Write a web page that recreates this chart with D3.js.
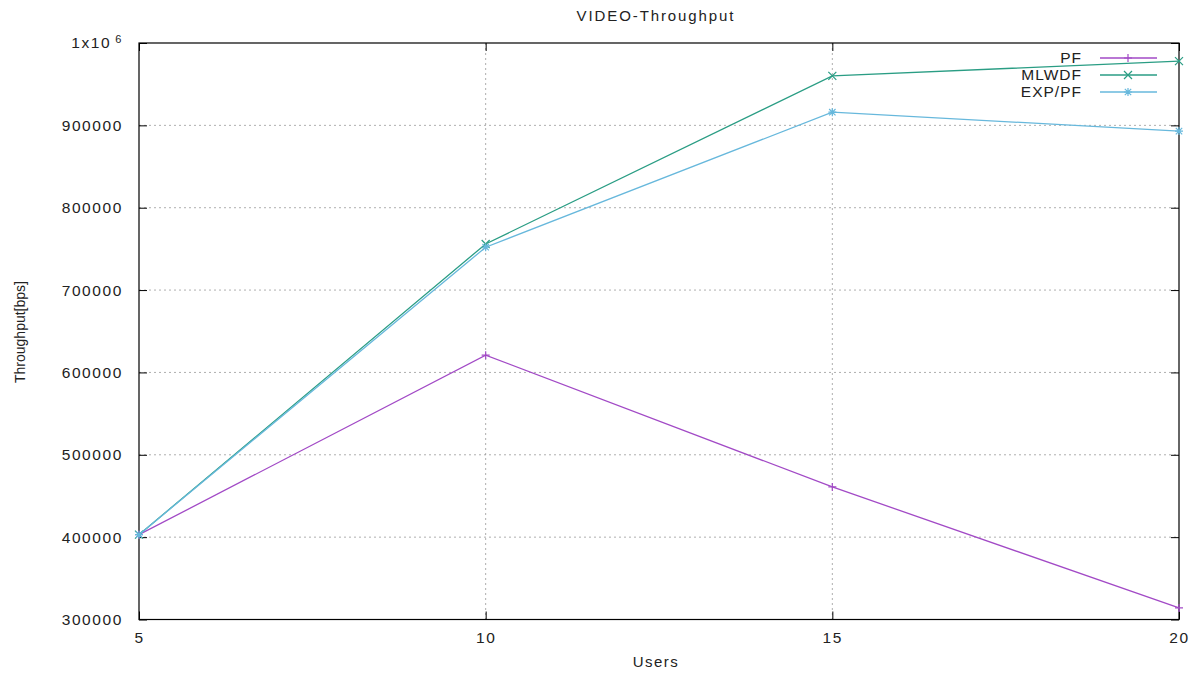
<!DOCTYPE html>
<html><head><meta charset="utf-8">
<script src="https://cdn.jsdelivr.net/npm/d3@7"></script>
<style>body{margin:0;background:#fff}text{font-family:"Liberation Sans",Arial,sans-serif;fill:#222}</style>
</head><body><svg id="c" width="1195" height="673"></svg>
<script>
const users = [5, 10, 15, 20];
const pf = [403000, 621000, 461000, 314000];
const mlwdf = [403000, 756000, 960000, 978000];
const expPf = [403000, 752000, 916000, 893000];
const yTicks = [300000, 400000, 500000, 600000, 700000, 800000, 900000, 1000000];
const seriesNames = ["PF", "MLWDF", "EXP/PF"];
const seriesColors = ["#a24ac6", "#2a9d84", "#67b8dc"];
const seriesMarks = ["plus", "cross", "star"];

const svg = d3.select("#c");
const L = 139, R = 1179, T = 43, B = 619.5;
const x = d3.scaleLinear().domain([5, 20]).range([L, R]);
const y = d3.scaleLinear().domain([300000, 1000000]).range([B, T]);

// grid
const g = svg.append("g");
g.selectAll(".gy").data(yTicks.slice(1, -1)).enter().append("line")
  .attr("x1", L).attr("x2", R).attr("y1", d => y(d)).attr("y2", d => y(d))
  .attr("stroke", "#999").attr("stroke-width", 0.8).attr("stroke-dasharray", "2,3");
g.selectAll(".gx").data(users.slice(1, -1)).enter().append("line")
  .attr("y1", T).attr("y2", B).attr("x1", d => x(d)).attr("x2", d => x(d))
  .attr("stroke", "#999").attr("stroke-width", 0.8).attr("stroke-dasharray", "2,3");

// axes via d3
const fmtY = d => d === 1000000 ? "" : d3.format("d")(d);
const yAxis = svg.append("g").attr("transform", `translate(${L},0)`)
  .call(d3.axisLeft(y).tickValues(yTicks).tickFormat(fmtY).tickSizeInner(-8).tickSizeOuter(0).tickPadding(16));
const yAxisR = svg.append("g").attr("transform", `translate(${R},0)`)
  .call(d3.axisRight(y).tickValues(yTicks).tickFormat("").tickSizeInner(-8).tickSizeOuter(0));
const xAxis = svg.append("g").attr("transform", `translate(0,${B})`)
  .call(d3.axisBottom(x).tickValues(users).tickFormat(d3.format("d")).tickSizeInner(-8).tickSizeOuter(0).tickPadding(12));
const xAxisT = svg.append("g").attr("transform", `translate(0,${T})`)
  .call(d3.axisTop(x).tickValues(users).tickFormat("").tickSizeInner(-8).tickSizeOuter(0));
[yAxis, yAxisR, xAxis, xAxisT].forEach(a => {
  a.select(".domain").remove();
  a.selectAll("line").attr("stroke", "#000").attr("stroke-width", 1);
  a.selectAll("text").attr("font-size", 15.5).attr("letter-spacing", "1.6px")
    .attr("font-family", "Liberation Sans, Arial, sans-serif").attr("fill", "#333");
});
// 1x10^6 label
const sup = svg.append("text").attr("x", L - 16).attr("y", y(1000000) + 5)
  .attr("text-anchor", "end").attr("font-size", 15.5).attr("letter-spacing", "1.6px").attr("fill", "#333");
sup.append("tspan").text("1x10");
sup.append("tspan").text("6").attr("dy", -5).attr("font-size", 11).attr("dx", 4);

// frame
svg.append("rect").attr("x", L).attr("y", T).attr("width", R - L).attr("height", B - T)
  .attr("fill", "none").attr("stroke", "#000").attr("stroke-width", 1.2);

// marker
function markPath(type, s) {
  if (type === "plus") return `M${-s},0H${s}M0,${-s}V${s}`;
  if (type === "cross") return `M${-s},${-s}L${s},${s}M${-s},${s}L${s},${-s}`;
  const a = s * 0.8;
  return `M${-s},0H${s}M0,${-s}V${s}M${-a},${-a}L${a},${a}M${-a},${a}L${a},${-a}`;
}

const data = [pf, mlwdf, expPf];
const line = d3.line().x((d, i) => x(users[i])).y(d => y(d));
data.forEach((vals, k) => {
  svg.append("path").datum(vals).attr("d", line).attr("fill", "none")
    .attr("stroke", seriesColors[k]).attr("stroke-width", 1.3);
  svg.selectAll(null).data(vals).enter().append("path")
    .attr("transform", (d, i) => `translate(${x(users[i])},${y(d)})`)
    .attr("d", markPath(seriesMarks[k], 4)).attr("stroke", seriesColors[k]).attr("stroke-width", 1.2).attr("fill", "none");
});

// legend
seriesNames.forEach((n, k) => {
  const ly = 58 + k * 17;
  svg.append("text").attr("x", 1082).attr("y", ly + 5).attr("text-anchor", "end")
    .attr("font-size", 15.5).attr("letter-spacing", "1px").attr("fill", "#333").text(n);
  svg.append("line").attr("x1", 1100).attr("x2", 1157).attr("y1", ly).attr("y2", ly)
    .attr("stroke", seriesColors[k]).attr("stroke-width", 1.3);
  svg.append("path").attr("transform", `translate(1128,${ly})`).attr("d", markPath(seriesMarks[k], 4))
    .attr("stroke", seriesColors[k]).attr("stroke-width", 1.2).attr("fill", "none");
});

// title and axis labels
svg.append("text").attr("x", 656).attr("y", 21).attr("text-anchor", "middle")
  .attr("font-size", 15).attr("letter-spacing", "1.9px").attr("fill", "#333").text("VIDEO-Throughput");
svg.append("text").attr("x", 656).attr("y", 667).attr("text-anchor", "middle")
  .attr("font-size", 15).attr("letter-spacing", "1.5px").attr("fill", "#333").text("Users");
svg.append("text").attr("transform", "translate(25,332) rotate(-90)").attr("text-anchor", "middle")
  .attr("font-size", 14).attr("fill", "#333").text("Throughput[bps]");
</script></body></html>
